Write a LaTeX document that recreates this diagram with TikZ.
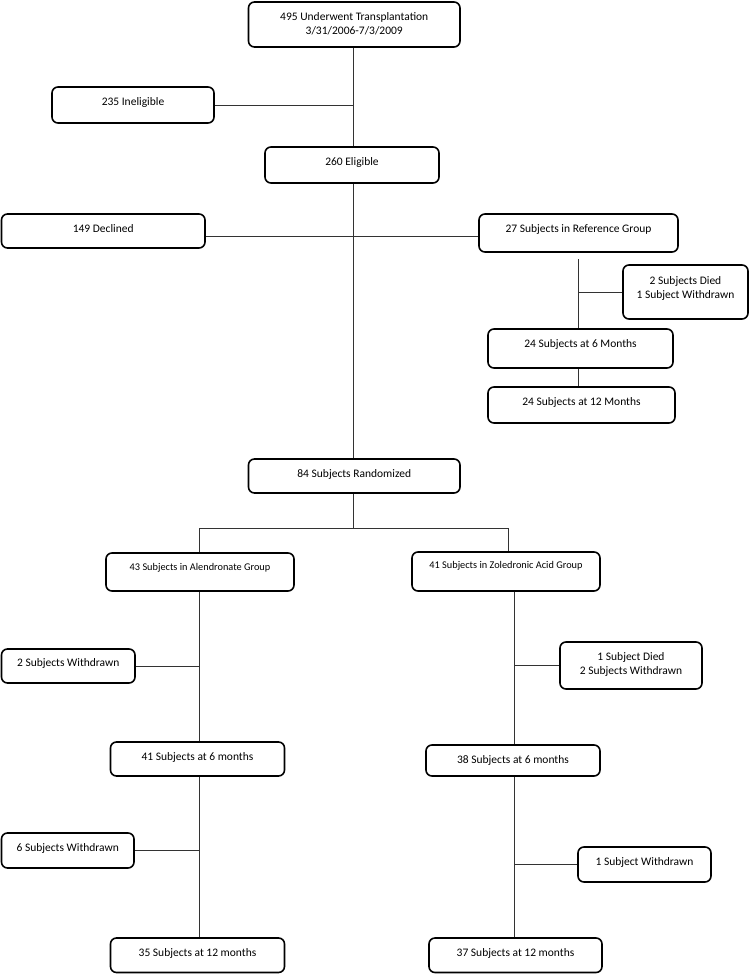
\documentclass[tikz,border=0pt]{standalone}
\usepackage{fontspec}
\setmainfont{Carlito}
\tikzset{
  box/.style={draw=black, line width=1.6pt, rounded corners=6pt, rectangle, inner sep=0pt, fill=white},
  txt/.style={inner sep=0pt, align=center, text=black},
  conn/.style={draw=black!80, line width=0.8pt},
  big/.style={font=\fontsize{11.5}{14}\selectfont},
  small/.style={font=\fontsize{10.3}{13}\selectfont}
}
\newcommand\mybox[8]{%
  \node[box, minimum width={#4-#2}, minimum height={#5-#3}] (#1) at ({(#2+#4)/2},{(#3+#5)/2}) {};
  \node[txt, #7] (#1-t) at ({(#2+#4)/2},#6) {#8};}
\begin{document}
\begin{tikzpicture}[x=1pt,y=-1pt]
\useasboundingbox (0,0) rectangle (750,974);
% boxes
\mybox{top}{248.5}{2}{460}{47}{23.5}{big}{495 Underwent Transplantation\\3/31/2006-7/3/2009}
\mybox{inel}{52}{87}{214}{123}{102}{big}{235 Ineligible}
\mybox{elig}{265}{147}{439}{183}{162}{big}{260 Eligible}
\mybox{decl}{1.5}{214}{205}{248}{229}{big}{149 Declined}
\mybox{ref}{479}{214}{678}{252}{229.5}{big}{27 Subjects in Reference Group}
\mybox{died}{623}{265}{748}{319}{288}{big}{2 Subjects Died\\1 Subject Withdrawn}
\mybox{r6}{488}{329}{673}{368}{344.5}{big}{24 Subjects at 6 Months}
\mybox{r12}{488}{387}{675}{423}{402.5}{big}{24 Subjects at 12 Months}
\mybox{rand}{248.5}{459}{460}{493}{474.5}{big}{84 Subjects Randomized}
\mybox{alen}{106}{553}{294}{591}{567.5}{small}{43 Subjects in Alendronate Group}
\mybox{zol}{412}{552}{600}{591}{565.5}{small}{41 Subjects in Zoledronic Acid Group}
\mybox{w2}{1.5}{649}{135}{683}{663.5}{big}{2 Subjects Withdrawn}
\mybox{d2}{560}{642}{702}{689}{664}{big}{1 Subject Died\\2 Subjects Withdrawn}
\mybox{a6}{110.5}{742}{284.5}{776}{757}{big}{41 Subjects at 6 months}
\mybox{z6}{426}{745}{600}{776}{760}{big}{38 Subjects at 6 months}
\mybox{w6}{1.5}{833}{134}{868}{848}{big}{6 Subjects Withdrawn}
\mybox{w1}{578}{847}{711}{882}{862.5}{big}{1 Subject Withdrawn}
\mybox{a12}{110.5}{938}{284.5}{972.5}{953.5}{big}{35 Subjects at 12 months}
\mybox{z12}{429}{938}{602}{972.5}{953.5}{big}{37 Subjects at 12 months}
% guide coordinates
\coordinate (mx) at (353,0);
\coordinate (rx) at (578,0);
\coordinate (lx) at (199.5,0);
\coordinate (zx) at (514,0);
\coordinate (zt) at (508.5,0);
\coordinate (dy) at (0,236);
\coordinate (by) at (0,528);
\coordinate (rtop) at (578,259);
% connectors
\begin{scope}[on background layer/.style={}]
\draw[conn] (top.south -| mx) -- (elig.north -| mx);
\draw[conn] (inel.east) -- (inel.east -| mx);
\draw[conn] (elig.south -| mx) -- (rand.north -| mx);
\draw[conn] (decl.east |- dy) -- (ref.west |- dy);
\draw[conn] (rtop) -- (r6.north -| rx);
\draw[conn] (died.west) -- (died.west -| rx);
\draw[conn] (r6.south -| rx) -- (r12.north -| rx);
\draw[conn] (rand.south -| mx) -- (mx |- by);
\draw[conn] (alen.north -| lx) -- (lx |- by) -- (zt |- by) -- (zol.north -| zt);
\draw[conn] (alen.south -| lx) -- (a6.north -| lx);
\draw[conn] (w2.east) -- (w2.east -| lx);
\draw[conn] (a6.south -| lx) -- (a12.north -| lx);
\draw[conn] (w6.east) -- (w6.east -| lx);
\draw[conn] (zol.south -| zx) -- (z6.north -| zx);
\draw[conn] (d2.west) -- (d2.west -| zx);
\draw[conn] (z6.south -| zx) -- (z12.north -| zx);
\draw[conn] (w1.west) -- (w1.west -| zx);
\end{scope}
\end{tikzpicture}
\end{document}
